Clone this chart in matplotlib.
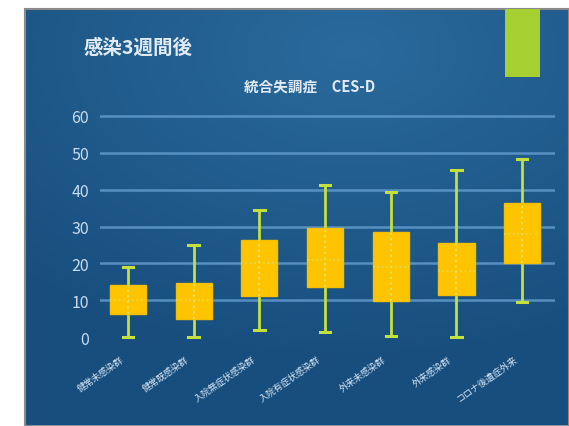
import matplotlib
matplotlib.use("Agg")
import matplotlib.pyplot as plt
import matplotlib.transforms as mtransforms
import numpy as np
from matplotlib.patches import Rectangle

plt.rcParams['font.family'] = ['Noto Sans CJK JP', 'DejaVu Sans']

categories = ["健常未感染群", "健常既感染群", "入院無症状感染群", "入院有症状感染群",
              "外来未感染群", "外来感染群", "コロナ後遺症外来"]
whisker_low = [0, 0, 2, 1.4, 0.3, 0, 9.5]
q1 = [6.2, 4.9, 11.2, 13.6, 9.8, 11.4, 20.1]
median = [10, 10, 20, 21, 19, 18, 28]
q3 = [14, 14.6, 26.4, 29.6, 28.5, 25.5, 36.4]
whisker_high = [19, 25, 34.5, 41.3, 39.4, 45.4, 48.4]
yticks = [0, 10, 20, 30, 40, 50, 60]

W, H = 569, 427
fig = plt.figure(figsize=(W/100, H/100), dpi=100)
fig.patch.set_facecolor('white')

# background panel with gradient
bg = fig.add_axes([25/W, 0, 1 - 25/W, 1 - 10/H])
bg.set_axis_off()
yy, xx = np.mgrid[0:1:200j, 0:1:300j]
r = np.sqrt((xx - 0.6)**2 + ((yy - 0.1) * 1.2)**2)
light = np.array([0x2a, 0x6a, 0x9c]) / 255
dark = np.array([0x17, 0x4e, 0x7e]) / 255
t = np.clip(r / 0.9, 0, 1)[..., None]
img = light * (1 - t) + dark * t
bg.imshow(img, aspect='auto', extent=[0, 1, 0, 1], origin='upper')
bg.set_xlim(0, 1); bg.set_ylim(0, 1)
fig.add_artist(Rectangle((25/W, 0), 1 - 25/W, 1 - 10/H, transform=fig.transFigure,
                         fill=False, edgecolor='#8a8a8a', lw=1.5))
# green block
fig.add_artist(Rectangle((505/W, 1 - 78/H), 35/W, 68/H, transform=fig.transFigure,
                         facecolor='#a6cf32', edgecolor='none'))

ax = fig.add_axes([100/W, 1 - 345.4/H, 455/W, (345.4 - 109.6)/H])
ax.patch.set_alpha(0)
ax.set_xlim(0.574, 7.5)
ax.set_ylim(-2, 62)
for s in ax.spines.values():
    s.set_visible(False)
for v in yticks[1:]:
    ax.axhline(v, color='#6aa3d6', lw=1.8, alpha=0.75, zorder=1)

stats = []
for i in range(len(categories)):
    stats.append(dict(whislo=whisker_low[i], q1=q1[i], med=median[i], q3=q3[i],
                      whishi=whisker_high[i], fliers=[], label=categories[i]))
ax.bxp(stats, positions=np.arange(1, 8), widths=0.55, patch_artist=True,
       showfliers=False,
       boxprops=dict(facecolor='#ffc400', edgecolor='#f5c000', lw=1, zorder=3),
       whiskerprops=dict(color='#c4e03c', lw=2, zorder=2),
       capprops=dict(color='#c4e03c', lw=2.2, zorder=2),
       medianprops=dict(color='#e8d84a', lw=1.2, ls=':', zorder=4),
       capwidths=0.16)
# dotted center line through boxes
for i in range(len(categories)):
    ax.plot([i + 1, i + 1], [q1[i], q3[i]], color='#e6e05a', lw=1.5, ls=':', zorder=4)

ax.set_yticks(yticks)
ax.set_yticklabels([str(v) for v in yticks], fontsize=11.5, color='#c8dcf0')
ax.tick_params(axis='y', length=0, pad=8)
ax.set_xticks(np.arange(1, 8))
ax.set_xticklabels(categories, rotation=35, ha='right', rotation_mode='anchor',
                   fontsize=6.5, color='#d4e4f4')
ax.tick_params(axis='x', length=0, pad=7)
offset = mtransforms.ScaledTranslation(-8/100, 0, fig.dpi_scale_trans)
for lab in ax.get_xticklabels():
    lab.set_transform(lab.get_transform() + offset)

fig.text(84/W, 1 - 48/H, "感染3週間後", fontsize=14, color='#e2ebf5', va='center',
         ha='left', fontweight='bold')
fig.text(310/W, 1 - 87/H, "統合失調症　CES-D", fontsize=10.5, color='#e2ebf5',
         va='center', ha='center', fontweight='bold')

fig.savefig('out.png', dpi=100, facecolor=fig.get_facecolor())
